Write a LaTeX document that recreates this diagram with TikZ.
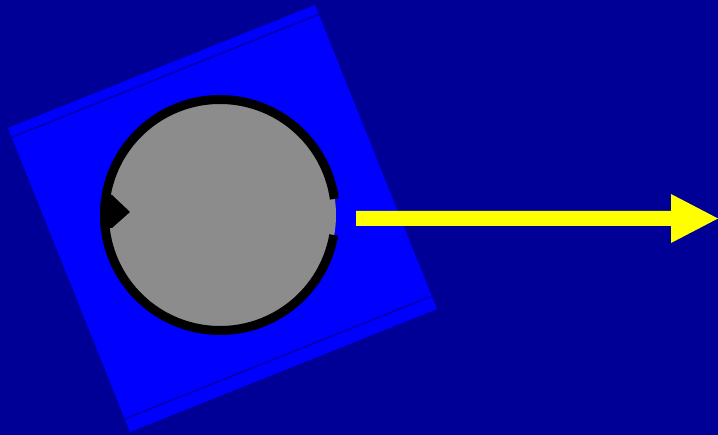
\documentclass[tikz,border=0pt]{standalone}
\definecolor{bg}{RGB}{0,0,150}
\definecolor{plate}{RGB}{0,0,255}
\definecolor{plateline}{RGB}{0,0,175}
\definecolor{disk}{RGB}{140,140,140}
\definecolor{arrowy}{RGB}{255,255,0}
\begin{document}
\begin{tikzpicture}[x=1pt,y=-1pt,
  platestyle/.style={fill=plate},
  groove/.style={draw=plateline,line width=1.6pt},
  ring/.style={draw=black,line width=9pt},
  arrowfill/.style={fill=arrowy}]
\fill[bg] (0,0) rectangle (718,435);
\useasboundingbox (0,0) rectangle (718,435);
% rotated plate
\coordinate (TL) at (8,128);
\coordinate (TR) at (315,5);
\coordinate (BR) at (437,309);
\coordinate (BL) at (130,432);
\path[platestyle] (TL) -- (TR) -- (BR) -- (BL) -- cycle;
\coordinate (g1a) at (11.7,137.3);
\coordinate (g1b) at (318.7,14.3);
\coordinate (g2a) at (125.2,418.9);
\coordinate (g2b) at (432.2,295.9);
\draw[groove] (g1a) -- (g1b);
\draw[groove] (g2a) -- (g2b);
% disk
\coordinate (C) at (220,215);
\fill[disk] (C) circle (116);
\draw[ring] (C) ++(10:115.5) arc[start angle=10,end angle=352,radius=115.5];
% notch
\fill[black] (106,195) -- (112,195) -- (130,212) -- (112,228) -- (106,228) -- cycle;
% arrow
\coordinate (A0) at (356,218.5);
\coordinate (A1) at (718,218.5);
\path[arrowfill] (356,211) -- (671,211) -- (671,194) -- (A1) -- (671,243) -- (671,226) -- (356,226) -- cycle;
\end{tikzpicture}
\end{document}
